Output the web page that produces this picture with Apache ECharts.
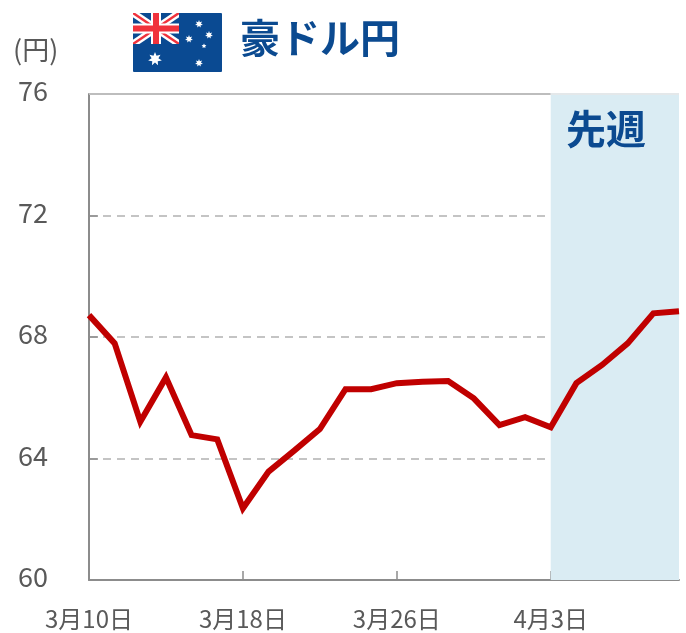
<!DOCTYPE html>
<html>
<head>
<meta charset="utf-8">
<title>豪ドル円</title>
<script src="https://cdn.jsdelivr.net/npm/echarts@6/dist/echarts.min.js"></script>
<style>
html, body { margin: 0; padding: 0; background: #fff; }
#chart { width: 686px; height: 633px; }
</style>
</head>
<body>
<div id="chart"></div>
<script>
const dates = [
    '3月10日', '3月11日', '3月12日', '3月13日', '3月14日', '3月17日',
    '3月18日', '3月19日', '3月20日', '3月21日', '3月24日', '3月25日',
    '3月26日', '3月27日', '3月28日', '3月31日', '4月1日', '4月2日',
    '4月3日', '4月4日', '4月7日', '4月8日', '4月9日', '4月10日'
];
const audJpy = [
    68.72, 67.79, 65.21, 66.67, 64.77, 64.63,
    62.36, 63.57, 64.26, 64.97, 66.28, 66.28,
    66.48, 66.53, 66.55, 65.98, 65.10, 65.36,
    65.03, 66.48, 67.08, 67.79, 68.78, 68.85
];
const lastWeekFrom = '4月3日';
const lastWeekTo = '4月10日';

const FONT = '"Noto Sans CJK JP", "Noto Sans", sans-serif';
const NAVY = '#0b4a90';
const GREY_TEXT = '#595959';
const FLAG_BLUE = '#0a4a92';

// 5 or 7 pointed star for the flag
const star = (cx, cy, r, n) => {
    const pts = [];
    for (let i = 0; i < n * 2; i++) {
        const rad = i % 2 === 0 ? r : r * 0.5;
        const a = -Math.PI / 2 + i * Math.PI / n;
        pts.push([cx + rad * Math.cos(a), cy + rad * Math.sin(a)]);
    }
    return { type: 'polygon', shape: { points: pts }, style: { fill: '#fff' } };
};
const bar = (x1, y1, x2, y2, color, w) => ({
    type: 'line',
    shape: { x1, y1, x2, y2 },
    style: { stroke: color, lineWidth: w }
});

const flag = [
    { type: 'rect', shape: { x: 133, y: 13, width: 89, height: 59, r: 1 }, style: { fill: FLAG_BLUE } },
    bar(133, 13, 179, 44, '#fff', 7),
    bar(179, 13, 133, 44, '#fff', 7),
    bar(133, 13, 179, 44, '#f0323c', 2.5),
    bar(179, 13, 133, 44, '#f0323c', 2.5),
    bar(156, 13, 156, 44, '#fff', 10),
    bar(133, 28.5, 179, 28.5, '#fff', 10),
    bar(156, 13, 156, 44, '#f0323c', 6),
    bar(133, 28.5, 179, 28.5, '#f0323c', 6),
    // diagonals overshoot the canton a little, cover with the field colour
    { type: 'rect', shape: { x: 179, y: 10, width: 6, height: 38 }, style: { fill: FLAG_BLUE } },
    { type: 'rect', shape: { x: 133, y: 44, width: 50, height: 4 }, style: { fill: FLAG_BLUE } },
    { type: 'rect', shape: { x: 128, y: 9, width: 5, height: 40 }, style: { fill: '#fff' } },
    { type: 'rect', shape: { x: 128, y: 8, width: 58, height: 5 }, style: { fill: '#fff' } },
    star(199, 24, 4, 7),
    star(209, 35, 4, 7),
    star(189, 39, 4, 7),
    star(204, 46, 2.5, 5),
    star(199, 63, 4, 7),
    star(155, 59, 7, 7)
];

const chart = echarts.init(document.getElementById('chart'), null, { renderer: 'canvas' });
chart.setOption({
    animation: false,
    backgroundColor: '#fff',
    textStyle: { fontFamily: FONT },
    grid: { left: 89, right: 7, top: 94, bottom: 53 },
    xAxis: {
        type: 'category',
        data: dates,
        boundaryGap: false,
        axisLine: { lineStyle: { color: '#8c8c8c', width: 2 } },
        axisTick: { inside: true, length: 9, interval: 5, lineStyle: { color: '#8c8c8c', width: 1.5 } },
        axisLabel: { interval: 5, margin: 27, fontSize: 24, color: GREY_TEXT, fontFamily: FONT },
        splitLine: { show: false }
    },
    yAxis: {
        type: 'value',
        min: 60,
        max: 76,
        interval: 4,
        axisLine: { show: true, lineStyle: { color: '#8c8c8c', width: 2 } },
        axisTick: { show: true, inside: true, length: 9, lineStyle: { color: '#8c8c8c', width: 1.5 } },
        // tiny line box + bottom align lifts the numbers a few px above their tick
        axisLabel: { margin: 41, fontSize: 27, color: GREY_TEXT, fontFamily: FONT, verticalAlign: 'bottom', lineHeight: 6 },
        splitLine: { show: true, lineStyle: { color: '#c4c4c4', width: 2, type: [8, 6] } }
    },
    series: [{
        type: 'line',
        data: audJpy,
        symbol: 'none',
        smooth: false,
        lineStyle: { color: '#c00000', width: 6, join: 'miter' },
        z: 5,
        markArea: {
            silent: true,
            itemStyle: { color: '#daecf3' },
            data: [[{ xAxis: lastWeekFrom }, { xAxis: lastWeekTo }]]
        },
        markLine: {
            silent: true,
            symbol: 'none',
            label: { show: false },
            animation: false,
            data: [
                [{ coord: [dates[0], 76], lineStyle: { color: '#bdbdbd', width: 2, type: 'solid' } }, { coord: [lastWeekFrom, 76] }],
                [{ coord: [lastWeekFrom, 76], lineStyle: { color: '#e4e8ea', width: 2, type: 'solid' } }, { coord: [lastWeekTo, 76] }]
            ]
        }
    }],
    graphic: [
        ...flag,
        { type: 'text', left: 13, top: 36, style: { text: '(円)', fontSize: 27, fill: GREY_TEXT, fontFamily: FONT } },
        { type: 'text', left: 240, top: 18, style: { text: '豪ドル円', fontSize: 40, fontWeight: 'bold', fill: NAVY, fontFamily: FONT } },
        { type: 'text', left: 566, top: 109, z: 10, style: { text: '先週', fontSize: 40, fontWeight: 'bold', fill: NAVY, fontFamily: FONT } }
    ]
});
</script>
</body>
</html>
